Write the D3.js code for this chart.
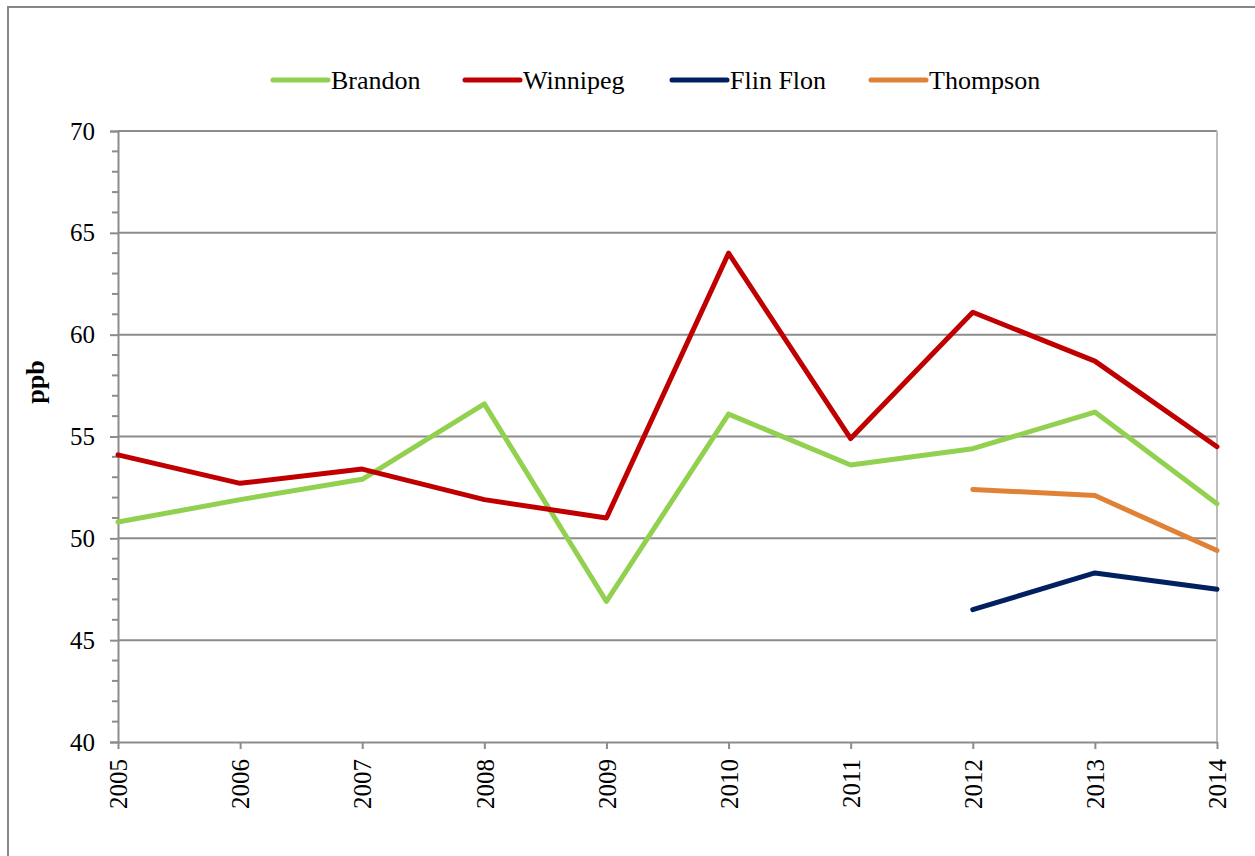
<!DOCTYPE html>
<html>
<head>
<meta charset="utf-8">
<script src="https://cdn.jsdelivr.net/npm/d3@7"></script>
<style>
  body { margin: 0; background: #fff; }
  svg { display: block; font-family: "Liberation Serif", "Times New Roman", serif; }
</style>
</head>
<body>
<svg id="chart" width="1255" height="856"></svg>
<script>
// data
const years = [2005, 2006, 2007, 2008, 2009, 2010, 2011, 2012, 2013, 2014];
const brandon  = [50.8, 51.9, 52.9, 56.6, 46.9, 56.1, 53.6, 54.4, 56.2, 51.7];
const winnipeg = [54.1, 52.7, 53.4, 51.9, 51.0, 64.0, 54.9, 61.1, 58.7, 54.5];
const flinFlon = [null, null, null, null, null, null, null, 46.5, 48.3, 47.5];
const thompson = [null, null, null, null, null, null, null, 52.4, 52.1, 49.4];
const seriesNames = ["Brandon", "Winnipeg", "Flin Flon", "Thompson"];
const seriesColors = ["#92d050", "#c00000", "#002060", "#e08236"];
const yTicks = [40, 45, 50, 55, 60, 65, 70];

const allSeries = [brandon, winnipeg, flinFlon, thompson];

const svg = d3.select("#chart");

// outer frame (only left and top edges are visible in the picture)
svg.append("path")
  .attr("d", "M8,856 L8,7 L1255,7")
  .attr("fill", "none")
  .attr("stroke", "#878787")
  .attr("stroke-width", 2);

const plotL = 118, plotR = 1217, plotT = 131, plotB = 742;

const x = d3.scalePoint().domain(years).range([plotL, plotR]);
const y = d3.scaleLinear().domain([40, 70]).range([plotB, plotT]);

// gridlines
svg.append("g").selectAll("line")
  .data(yTicks.filter(d => d > 40))
  .join("line")
  .attr("x1", plotL).attr("x2", plotR)
  .attr("y1", d => y(d)).attr("y2", d => y(d))
  .attr("stroke", "#8c8c8c")
  .attr("stroke-width", 2);

// right plot edge
svg.append("line")
  .attr("x1", plotR).attr("x2", plotR)
  .attr("y1", plotT).attr("y2", plotB)
  .attr("stroke", "#bdbdbd")
  .attr("stroke-width", 2);

// y axis with minor ticks
const yMinor = d3.range(40, 70.01, 1).filter(v => v % 5 !== 0);
svg.append("g").selectAll("line")
  .data(yMinor)
  .join("line")
  .attr("x1", plotL - 6).attr("x2", plotL)
  .attr("y1", d => y(d)).attr("y2", d => y(d))
  .attr("stroke", "#8c8c8c").attr("stroke-width", 2);

const yAxis = d3.axisLeft(y).tickValues(yTicks).tickSize(8).tickPadding(15);
const gy = svg.append("g").attr("transform", `translate(${plotL},0)`).call(yAxis);
gy.select(".domain").attr("stroke", "#8c8c8c").attr("stroke-width", 2);
gy.selectAll(".tick line").attr("stroke", "#8c8c8c").attr("stroke-width", 2);
gy.selectAll(".tick text")
  .attr("font-family", "Liberation Serif, serif")
  .attr("font-size", 25).attr("fill", "#000");

// x axis
const xAxis = d3.axisBottom(x).tickSize(7).tickPadding(0).tickSizeOuter(0);
const gx = svg.append("g").attr("transform", `translate(0,${plotB})`).call(xAxis);
gx.select(".domain").attr("stroke", "#8c8c8c").attr("stroke-width", 2);
gx.selectAll(".tick line").attr("stroke", "#8c8c8c").attr("stroke-width", 2);
gx.selectAll(".tick text")
  .attr("font-family", "Liberation Serif, serif")
  .attr("font-size", 25).attr("fill", "#000")
  .attr("transform", "rotate(-90)")
  .attr("text-anchor", "end")
  .attr("x", -17).attr("y", 0).attr("dy", "0.35em");

// y axis title
svg.append("text")
  .attr("transform", "translate(35,382) rotate(-90)")
  .attr("text-anchor", "middle")
  .attr("dy", "0.35em")
  .attr("font-size", 26).attr("font-weight", "bold")
  .text("ppb");

// lines
const line = d3.line()
  .defined(d => d != null)
  .x((d, i) => x(years[i]))
  .y(d => y(d));

svg.append("g").selectAll("path")
  .data(allSeries)
  .join("path")
  .attr("d", d => line(d))
  .attr("fill", "none")
  .attr("stroke", (d, i) => seriesColors[i])
  .attr("stroke-width", 5)
  .attr("stroke-linejoin", "round")
  .attr("stroke-linecap", "round");

// legend
const legendX = [273, 465, 672, 871];
const lg = svg.append("g").selectAll("g")
  .data(seriesNames)
  .join("g")
  .attr("transform", (d, i) => `translate(${legendX[i]},80)`);
lg.append("line")
  .attr("x1", 0).attr("x2", 55)
  .attr("stroke", (d, i) => seriesColors[i])
  .attr("stroke-width", 5)
  .attr("stroke-linecap", "round");
lg.append("text")
  .attr("x", 58).attr("dy", "0.35em")
  .attr("font-size", 26)
  .text(d => d);
</script>
</body>
</html>
